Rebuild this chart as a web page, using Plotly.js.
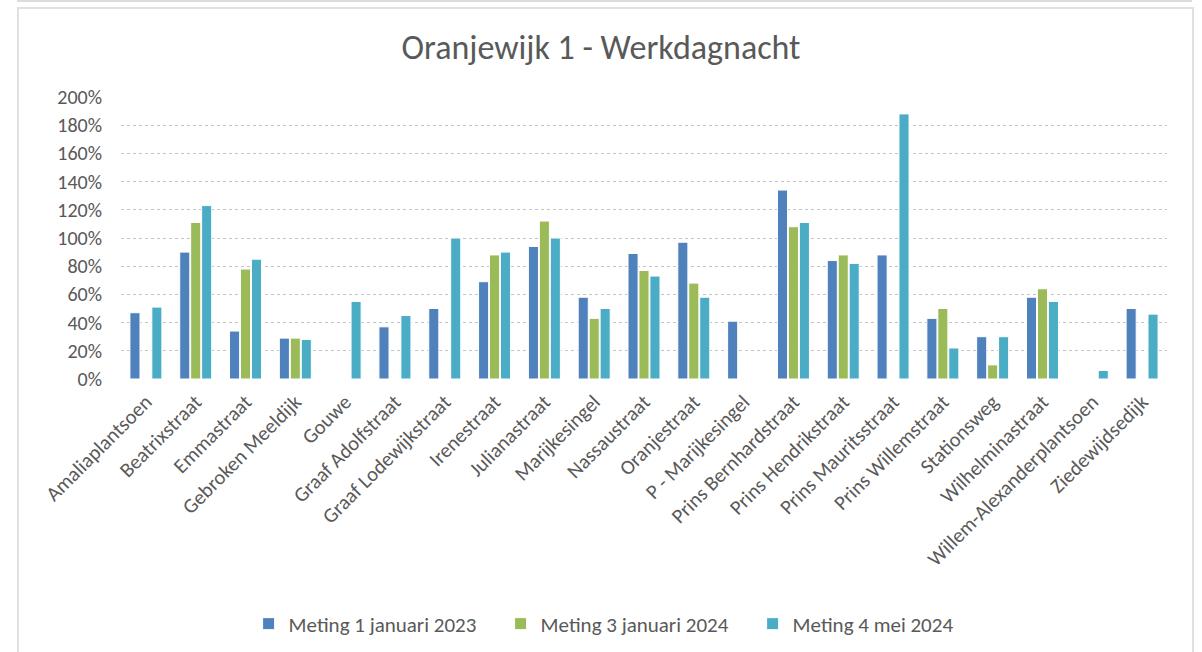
<!DOCTYPE html>
<html>
<head>
<meta charset="utf-8">
<script src="https://cdn.plot.ly/plotly-3.0.1.min.js"></script>
<style>
  body { margin: 0; background: #ffffff; }
  #topline { position: absolute; left: 17px; top: 0; width: 1175px; height: 2px; background: #dcdcdc; }
  #frame { position: absolute; left: 17px; top: 7px; width: 1173px; height: 660px; border: 2px solid #e0e0e0; border-bottom: none; }
  #grafiek { position: absolute; left: 0; top: 0; width: 1202px; height: 652px; }
</style>
</head>
<body>
<div id="topline"></div>
<div id="frame"></div>
<div id="grafiek"></div>
<script>
// straten (categorieen op de x-as)
var straten = ["Amaliaplantsoen", "Beatrixstraat", "Emmastraat", "Gebroken Meeldijk", "Gouwe",
  "Graaf Adolfstraat", "Graaf Lodewijkstraat", "Irenestraat", "Julianastraat", "Marijkesingel",
  "Nassaustraat", "Oranjestraat", "P - Marijkesingel", "Prins Bernhardstraat", "Prins Hendrikstraat",
  "Prins Mauritsstraat", "Prins Willemstraat", "Stationsweg", "Wilhelminastraat",
  "Willem-Alexanderplantsoen", "Ziedewijdsedijk"];

// bezettingsgraad per meting (fractie, null = geen meting)
var meting2023 = [0.47, 0.90, 0.34, 0.29, null, 0.37, 0.50, 0.69, 0.94, 0.58, 0.89, 0.97, 0.41, 1.34, 0.84, 0.88, 0.43, 0.30, 0.58, null, 0.50];
var metingJan2024 = [null, 1.11, 0.78, 0.29, null, null, null, 0.88, 1.12, 0.43, 0.77, 0.68, null, 1.08, 0.88, null, 0.50, 0.10, 0.64, null, null];
var metingMei2024 = [0.51, 1.23, 0.85, 0.28, 0.55, 0.45, 1.00, 0.90, 1.00, 0.50, 0.73, 0.58, null, 1.11, 0.82, 1.88, 0.22, 0.30, 0.55, 0.06, 0.46];

var reeksNamen = ["Meting 1 januari 2023", "Meting 3 januari 2024", "Meting 4 mei 2024"];
var kleuren = ["#4f81bd", "#9bbb59", "#4bacc6"];
var yTicks = [0, 0.2, 0.4, 0.6, 0.8, 1.0, 1.2, 1.4, 1.6, 1.8, 2.0];

var fontNaam = "Carlito, Lato, sans-serif";
var tekstKleur = "#595959";

var reeksen = [meting2023, metingJan2024, metingMei2024];
var data = [];
for (let i = 0; i < reeksen.length; i++) {
  data.push({
    type: "bar",
    name: reeksNamen[i],
    x: straten,
    y: reeksen[i],
    marker: { color: kleuren[i], line: { color: "#ffffff", width: 1 } }
  });
}

var layout = {
  width: 1202,
  height: 652,
  margin: { l: 121, r: 35, t: 97, b: 273 },
  paper_bgcolor: "rgba(0,0,0,0)",
  plot_bgcolor: "rgba(0,0,0,0)",
  font: { family: fontNaam, color: tekstKleur, size: 15 },
  title: {
    text: "Oranjewijk 1 - Werkdagnacht",
    font: { size: 34, color: tekstKleur, family: fontNaam },
    x: 0.5, xanchor: "center",
    y: 1 - 47 / 652, yanchor: "middle", yref: "container"
  },
  barmode: "group",
  bargap: 0.34,
  bargroupgap: 0.08,
  showlegend: true,
  legend: {
    orientation: "h",
    x: 0.122, xanchor: "left",
    y: 1 - 624 / 652, yanchor: "middle", yref: "container",
    entrywidth: 207,
    font: { size: 21, color: tekstKleur, family: fontNaam },
    traceorder: "normal"
  },
  xaxis: {
    tickangle: -45,
    tickfont: { size: 20.5, color: tekstKleur },
    showgrid: false,
    showline: false,
    ticks: "",
    ticklabelstandoff: 6,
    automargin: false
  },
  yaxis: {
    range: [0, 2.0],
    tickvals: yTicks,
    tickformat: ".0%",
    tickfont: { size: 20, color: tekstKleur },
    showgrid: true,
    gridcolor: "#c4c4c4",
    griddash: "dot",
    gridwidth: 1,
    zeroline: false,
    showline: false,
    ticks: "",
    ticklabelstandoff: 18,
    automargin: false
  }
};

Plotly.newPlot("grafiek", data, layout, { staticPlot: true });
</script>
</body>
</html>
